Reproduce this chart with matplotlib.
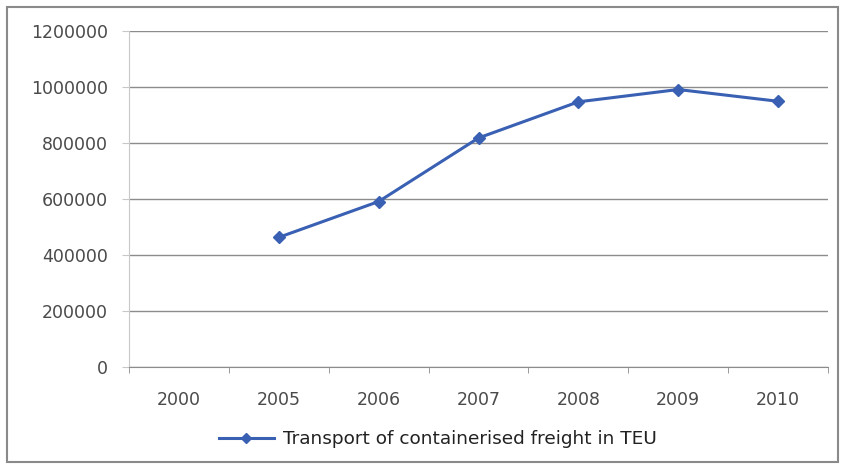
import numpy as np
import matplotlib
matplotlib.use('Agg')
import matplotlib.pyplot as plt
from matplotlib.patches import Rectangle

# -----------------------------------------------------------------------
# Data
# -----------------------------------------------------------------------
YEARS  = ["2000", "2005", "2006", "2007", "2008", "2009", "2010"]
TEU    = [np.nan, 463000, 591000, 818000, 947000, 991000, 949000]
Y_TICKS = [0, 200000, 400000, 600000, 800000, 1000000, 1200000]
LEGEND_LABEL = "Transport of containerised freight in TEU"

LINE_COLOR = "#3960b3"
GRID_COLOR = "#8c8c8c"
TEXT_COLOR = "#4a4a4a"


def main():
    fig = plt.figure(figsize=(8.44, 4.69), dpi=100)
    W, H = 844, 469

    # outer chart frame
    fig.patches.append(Rectangle((7 / W, 7 / H), 831 / W, 455 / H,
                                 transform=fig.transFigure, fill=False,
                                 edgecolor="#8a8a8a", linewidth=1.5))

    left, right, top, bottom = 129, 828, 31, 367
    ax = fig.add_axes([left / W, 1 - bottom / H,
                       (right - left) / W, (bottom - top) / H])

    x = np.arange(len(YEARS))
    line, = ax.plot(x, TEU, color=LINE_COLOR, linewidth=2.2,
                    marker="D", markersize=6.5, markerfacecolor=LINE_COLOR,
                    markeredgecolor=LINE_COLOR, label=LEGEND_LABEL)

    ax.set_xlim(-0.5, len(YEARS) - 0.5)
    ax.set_ylim(Y_TICKS[0], Y_TICKS[-1])
    ax.set_yticks(Y_TICKS)
    ax.set_yticklabels([str(v) for v in Y_TICKS])
    ax.set_xticks(x)
    ax.set_xticklabels(YEARS)
    ax.set_xticks(np.arange(-0.5, len(YEARS)), minor=True)

    for lab in ax.get_xticklabels() + ax.get_yticklabels():
        lab.set_fontfamily("DejaVu Sans")
        lab.set_fontsize(12.5)
        lab.set_color(TEXT_COLOR)

    ax.tick_params(axis="x", which="major", length=0, pad=17)
    ax.tick_params(axis="x", which="minor", length=4, color=GRID_COLOR)
    ax.tick_params(axis="y", length=5, color="#c8c8c8", pad=10)

    ax.yaxis.grid(True, color=GRID_COLOR, linewidth=1)
    ax.set_axisbelow(True)
    for side in ("top", "right"):
        ax.spines[side].set_visible(False)
    ax.spines["left"].set_color("#c8c8c8")
    ax.spines["bottom"].set_color(GRID_COLOR)

    leg = fig.legend(handles=[line], loc="center left",
                     bbox_to_anchor=(202 / W, 1 - 439 / H),
                     frameon=False, handlelength=3.0, handletextpad=0.5,
                     markerscale=0.8,
                     prop={"family": "DejaVu Sans", "size": 13.3})
    for t in leg.get_texts():
        t.set_color("#222222")

    fig.savefig("out.png", dpi=100)
    plt.close(fig)


if __name__ == '__main__':
    main()
